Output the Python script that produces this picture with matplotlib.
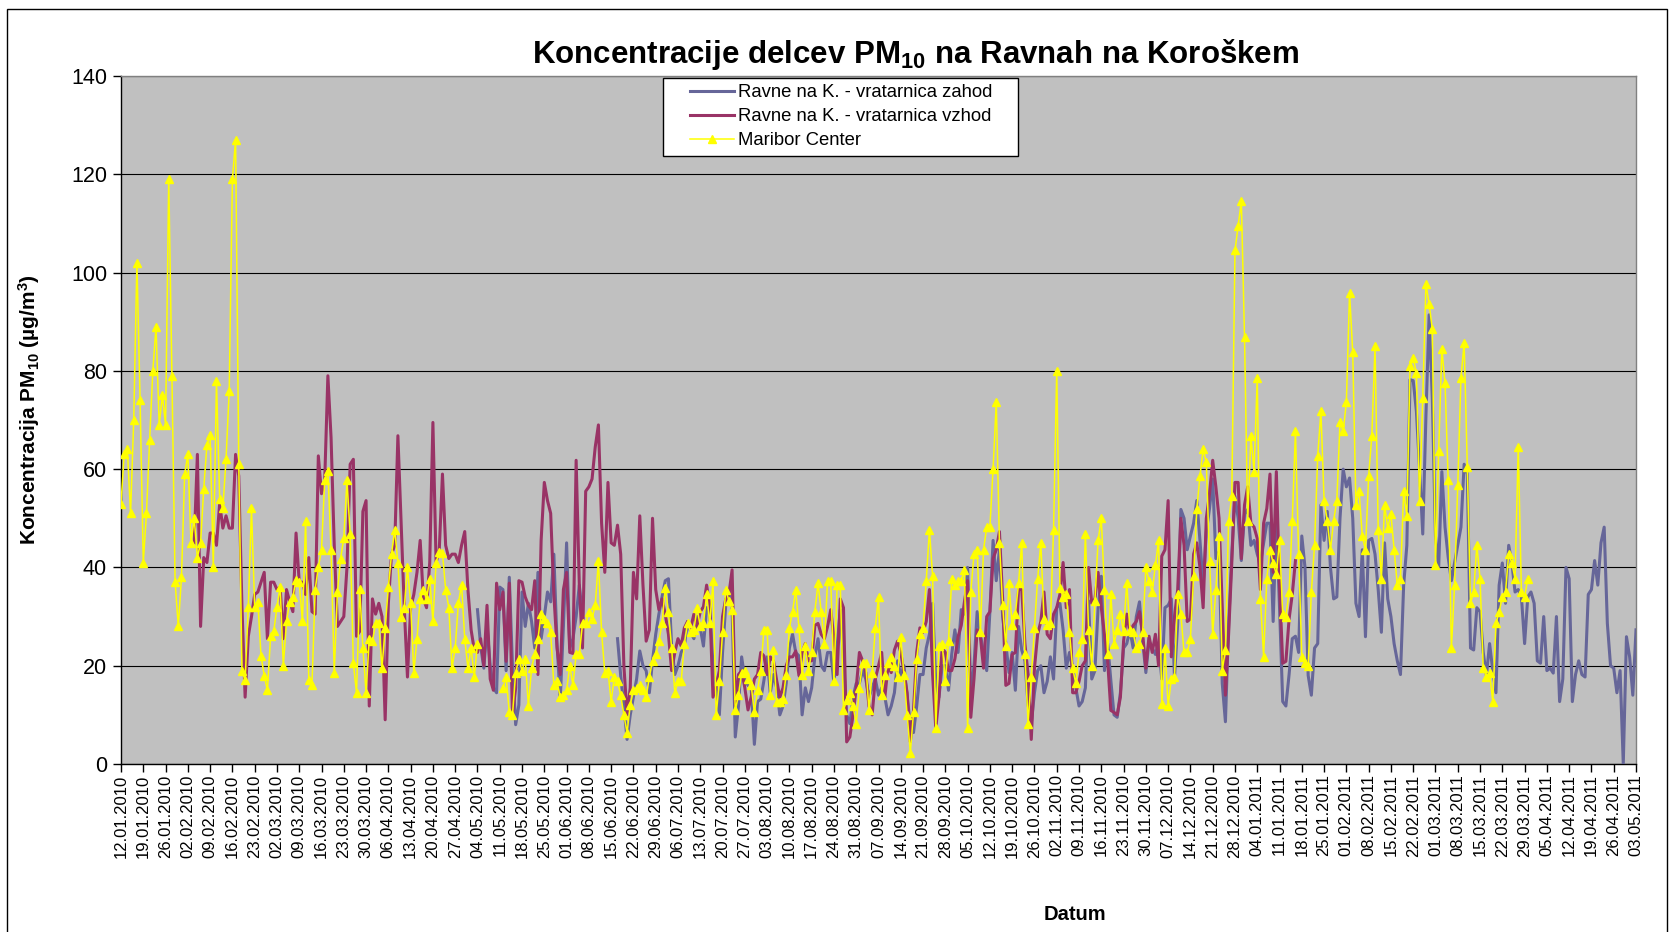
import matplotlib
matplotlib.use("Agg")
import matplotlib.pyplot as plt
from matplotlib.patches import Rectangle
import numpy as np
import pandas as pd

plt.rcParams["font.family"] = ["Liberation Sans", "DejaVu Sans"]
plt.rcParams["mathtext.fontset"] = "custom"
plt.rcParams["mathtext.rm"] = "Liberation Sans"
plt.rcParams["mathtext.bf"] = "Liberation Sans:bold"
plt.rcParams["mathtext.it"] = "Liberation Sans:italic"

# daily values, first day 12.01.2010, None = no measurement
start_date = "2010-01-12"
n_days = 477

series_names = ["Ravne na K. - vratarnica zahod",
                "Ravne na K. - vratarnica vzhod",
                "Maribor Center"]

ravne_zahod = ([None] * 112 +
    [31.4, 24, 19.5, 28, 20, 15.5, 14.5, 36, 35.5, 19, 38, 20, 8, 12, 35, 28, 32.7, 29, 23.6, 39,
     25.5, 30, 35, 33, 42.7, 24.5, 13, 28, 45, 23.6, 25.5, 30, 36.4, 30] +
    [None] * 10 +
    [25.5, 18, 11.8, 5, 10, 13.6, 17.3, 23, 20, 19, 14.5, 21, 26.4, 30.5, 34, 37.3, 37.7, 24, 18.2, 20,
     22.7, 24, 29, 26.8, 25.5, 30, 27.7, 24, 31.8, 31.8, 20, 15.5, 10, 22.7, 32.3, 35.5, 31.8, 5.5, 11.8, 21.8,
     17.3, 16, 15.5, 4, 12.7, 13.2, 17, 21.8, 14.5, 18.2, 15.5, 10, 11.8, 16.4, 23.6, 26.4, 22.7] +
    [22, 10, 15.5, 12.7, 15.5, 21.8, 25.5, 20, 19, 22.7, 22.7, 16.4, 24, 31.4, 21, 10, 8.2, 13.6, 16.4, 16.4,
     19, 17.3, 13.6, 15.5, 17.3, 14, 15.5, 13.6, 10, 11.8, 14.5, 21, 18, 20, 13.6, 8.2, 6.4, 11.8, 18.2, 18.2,
     23.6, 26.4, 32.7, 16.4, 13.6, 20, 20, 15, 22.3, 27.3, 22.7, 31.4, 30.5, 40] +
    [13.6, 20, 31, 26.4, 22.7, 19, 31, 45.5, 37.3, 43.6, 30, 24.5, 18.6, 22.7, 15, 28, 23.2, 21, 12, 8.2,
     14.5, 19, 20, 14.5, 16.8, 21.8, 17.3, 31.8, 32.7, 27.3, 19.5, 22.7, 19.5, 15.5, 11.8, 12.7, 15.5, 33.2, 17.3, 19,
     31.8, 38.2, 19, 24.5, 17, 10, 9.5, 14.5, 23.6, 24.5, 27.3, 23.6, 30, 33] +
    [25, 18.6, 25, 23.6, 22.3, 24.5, 17.3, 31.8, 32.3, 33.6, 17.7, 28.6, 51.8, 50, 43.6, 46.4, 49, 53.6, 45.5, 36.4,
     47.3, 52, 58, 41.8, 43.2, 16.4, 8.6, 28.2, 42.7, 54.5, 50, 41.4, 50.9, 51.8, 44.5, 45.5, 42.7, 40.9, 45, 49,
     49, 29, 50, 31.8, 12.7, 11.8, 18.2, 25.5, 26, 22.7, 46.4, 40, 18, 14] +
    [23.6, 24.5, 52.7, 45.5, 51.4, 40, 33.6, 34, 50, 60, 56.4, 58.2, 50, 32.7, 30, 43.6, 25.9, 45.5, 45.9, 42.7,
     35.5, 26.8, 45, 33.6, 30, 24.5, 21, 18.2, 36.4, 44.5, 78.2, 78, 71.8, 60, 46.8, 70.9, 91.4, 74.5, 46.4, 40,
     59.5, 48.2, 42, 37.3, 40.9, 44.5, 48.2, 61, 59, 23.6, 23.2] +
    [31.8, 31, 22.7, 18, 24.5, 19, 14.5, 36.4, 40.9, 32.7, 44.5, 40.9, 35, 35.5, 34, 24.5, 34, 35, 32.7, 21,
     20.5, 30, 19, 19.5, 18.5, 30, 12.7, 17.3, 40, 37.7, 12.7, 18.2, 21, 18.2, 17.7, 34.5, 35.5, 41.4, 36.4, 45,
     48.2, 28.6, 20, 19.5, 14.5, 19, 0, 25.9, 21.8, 14, 27.3])

ravne_vzhod = ([None] * 23 +
    [45, 63, 28, 42, 41, 47, 47, 44.5, 53, 48, 50.5, 48, 48, 63, 58.6, 32, 13.6, 26, 30, 34.5,
     35, 37, 39, 25.5, 37, 37, 35.5, 36, 25.5] +
    [35.5, 33, 31, 47, 37, 37, 34.5, 42, 31, 30.5, 62.7, 55, 57.7, 79, 66.4, 44.5, 28, 29, 30, 40,
     61, 62, 26, 27, 51.4, 53.6, 11.8, 33.6, 30.5, 32.7, 30, 9, 32.7, 42.7, 44.5, 66.8, 49.5, 31.8, 17.7, 31.8,
     34.5, 39, 45.5, 33.6, 31.8, 41, 69.5, 41, 43.6, 59, 44.5, 41.8, 42.7] +
    [42.7, 41, 44.5, 47.3, 35.5, 27.3, 23.2, 22.7, 25.5, 20, 32.3, 17.3, 15, 36.8, 31.4, 35, 20.9, 36.8, 10, 15.5,
     37.3, 37, 34, 32.3, 31.4, 37.3, 18.2, 45.5, 57.3, 53.6, 51, 34.5, 23.6, 18.2, 35.5, 39, 22.7, 22.5, 61.8, 36.4,
     23.6, 55.5, 56.4, 58, 64.5, 69, 49, 39, 57.3, 45, 44.5, 48.6, 42.7, 20, 10] +
    [15.5, 39, 33.6, 50.5, 36.4, 25, 27.3, 50, 35.5, 31.4, 33.6, 30.5, 26.4, 19, 22.7, 25.5, 24, 27.7, 29, 27.7,
     30.5, 28, 31, 32, 36.4, 32, 13.6, 16, 19, 30, 33.6, 34.5, 39.5, 11.8, 18.2, 19, 15.5, 11, 13.6, 17.3,
     18.2, 22.7, 22, 18.2, 21.8, 21, 17, 13.6, 15.5, 20, 21.8, 21.8, 23, 18] +
    [22.7, 24.5, 21, 21, 28.2, 28.6, 26.4, 25.5, 28, 31.4, 25.5, 18.2, 33.6, 31.8, 4.5, 5.5, 10, 15.5, 22.7, 21,
     18.6, 11.8, 10, 17.3, 20, 22.7, 13.6, 20, 18.6, 23.2, 25, 22.7, 18.6, 14.5, 4.5, 10.9, 22.7, 27.7, 26.8, 29,
     35.5, 18.2, 7.3, 13.6, 23.6, 22.7, 19, 19, 21.4, 25.9, 28.2, 33, 37.3] +
    [9.5, 17.3, 27.3, 26, 19.5, 30, 31, 41.8, 43.6, 47.3, 33.6, 16, 16.4, 22.3, 22.7, 35.5, 35.5, 24.5, 18.2, 5,
     19.5, 26.4, 29, 35, 26.4, 25.5, 30.5, 31.8, 34.5, 41, 31.8, 35.5, 14.5, 14.5, 16.8, 20, 21, 40, 32.7, 33.6,
     39, 31.8, 26.4, 21, 10.9, 10.5, 10, 13.6, 25, 30.5, 26.8, 28.2, 29, 31] +
    [26.4, 19.5, 26, 22.7, 26.4, 20, 42.3, 43.6, 53.6, 21.8, 30, 35.5, 50, 44.5, 29, 29.5, 42.7, 45, 40, 31.8,
     50, 55, 61.8, 56.4, 50, 31.8, 14, 26.4, 40.9, 57.3, 57.3, 41.8, 52.7, 56.4, 49, 48.2, 45.9, 35.5, 49, 52,
     59, 39, 59.5, 36.4, 20.5, 20.9, 29.5, 34.5, 41.4] +
    [None] * 107)

maribor_center = (
    [53, 63, 64, 51, 70, 102, 74, 41, 51, 66, 80, 89, 69, 75, 69, 119, 79, 37, 28, 38,
     59, 63, 45, 50, 42, 45, 56, 65, 67, 40, 78, 54, 52, 62, 76, 119, 127, 61, 19, 17,
     32, 52, 32, 33, 22, 18, 15, 26, 27, 32, 36, 20, 29] +
    [33, 34, 37.5, 37, 29, 49.5, 17, 16, 35.5, 40, 43.6, 57.7, 59.7, 43.6, 18.6, 35, 41.8, 46, 57.7, 46.8,
     20.5, 14.5, 35.6, 23.6, 14.5, 25.5, 25, 28.6, 28.6, 19.5, 27.7, 36, 42.7, 47.7, 41, 30, 31.8, 40, 32.7, 18.6,
     25.5, 33.6, 35.5, 33.6, 37.7, 29, 41, 43.2, 43, 35.5, 31.8, 19.5, 23.6, 32.7] +
    [36.5, 25.5, 19.5, 23.6, 17.7, 24.5] +
    [None] * 7 +
    [15.5, 17.7, 10.5, 10, 18.6, 21.4, 19, 21.4, 11.8, 19.5, 22.3, 25.5, 30.5, 29.5, 28.6, 26.8, 16, 16.8, 13.6, 14,
     15, 20, 16, 22.3, 22.3, 28.6, 28.6, 31, 29.5, 32.3, 41.4, 26.8, 18.6, 19, 12.7, 17.7, 16.8, 14, 10, 6.4] +
    [12, 15, 15.5, 16, 15, 13.6, 17.7, 21, 22.3, 25, 28.6, 35.9, 31, 23.6, 14.5, 16.8, 16.8, 24.5, 28.6, 26.8,
     27.3, 31.8, 28, 28.6, 34.5, 28.6, 37.3, 10, 16.8, 26.8, 35.5, 33.2, 31.4, 10.9, 14, 18.6, 19, 17.3, 16, 10.5,
     15, 19, 27.3, 27.3, 14, 23.2, 12.7, 12.7, 13.2, 18.2, 27.7, 31, 35.5, 27.7] +
    [18.2, 24, 19, 22.7, 31, 36.8, 31, 24.5, 37.3, 37.3, 16.8, 36.4, 36.4, 10.9, 13, 14.5, 11.8, 8.2, 15.5, 20.5,
     20.5, 10.9, 18.6, 27.7, 34, 14, 18.2, 20.5, 21.8, 20, 17.7, 25.9, 18.2, 10, 2.3, 10.5, 21.4, 26.4, 27.7, 37.3,
     47.7, 38.2, 7.3, 24, 24.5, 16.8, 25, 37.7, 36.4, 37.3, 37.3, 39.5, 7.3] +
    [35, 42.7, 43.6, 26.8, 43.6, 48.2, 48.2, 60, 73.6, 45, 32.3, 24, 36.8, 28.2, 30.5, 36.8, 45, 22.3, 8.2, 17.7,
     27.7, 37.7, 45, 29.5, 28.2, 28.6, 47.7, 80, 35.9, 34, 34.5, 26.8, 19.5, 16.4, 22.7, 25.5, 46.8, 27.3, 20, 33.2,
     45.5, 50, 35.5, 22.3, 34.5, 24.5, 27.3, 30.5, 27, 36.8, 27.3, 26.8] +
    [23.6, 24.5, 26.8, 40, 37.3, 35, 40.5, 45.5, 12.3, 23.6, 11.8, 17.3, 17.7, 34.5, 30.5, 22.7, 22.7, 25.5, 38.2, 51.8,
     58.6, 64, 61.4, 41.4, 26.4, 35.5, 46.4, 19, 23.2, 49.5, 54.5, 104.5, 109.5, 114.5, 86.8, 49.5, 66.8, 59.5, 78.6, 33.6,
     21.8, 37.7, 43.6, 40.9, 38.6, 45.5, 30.5, 30, 35, 49.5, 67.7] +
    [42.7, 21.8, 20.5, 20, 35, 44.5, 62.7, 71.8, 53.6, 49.5, 43.6, 49.5, 53.6, 69.5, 67.7, 73.6, 95.9] +
    [83.8, 52.7, 55.5, 46.4, 43.6, 58.6, 66.8, 85, 47.7, 37.7, 52.7, 48, 50.9, 43.6, 36.4, 37.7, 55.5, 50.5, 80.9, 82.7,
     79.5, 53.6, 74.5, 97.7, 93.6, 88.6, 40.5, 63.6, 84.5, 77.5, 57.7, 23.6, 36.4, 56.8, 78.6, 85.6, 60.5, 32.7, 35, 44.5,
     37.7] +
    [19.5, 17.7, 18.5, 12.7, 28.6, 31, 34, 35, 42.7, 40.9, 37.7, 64.5, 35, 34, 37.7] +
    [None] * 34)

dates = pd.date_range(start_date, periods=n_days, freq="D")
x = np.arange(n_days)
zahod = np.array(ravne_zahod, dtype=float)
vzhod = np.array(ravne_vzhod, dtype=float)
maribor = np.array(maribor_center, dtype=float)

W, H = 1670, 932
fig = plt.figure(figsize=(W / 100, H / 100), dpi=100)
ax = fig.add_axes([121 / W, 1 - 764 / H, 1515 / W, 688 / H])
ax.set_facecolor("#C0C0C0")

l1, = ax.plot(x, zahod, color="#666699", lw=2.2, label=series_names[0], zorder=3)
l2, = ax.plot(x, vzhod, color="#993366", lw=2.2, label=series_names[1], zorder=4)
l3, = ax.plot(x, maribor, color="#FFFF00", lw=1.1, marker="^", ms=6,
              mec="#FFFF00", mfc="#FFFF00", label=series_names[2], zorder=5)

ax.set_xlim(0, n_days - 1)
ax.set_ylim(0, 140)
ax.set_yticks(np.arange(0, 141, 20))
ax.yaxis.grid(True, color="black", lw=0.8)
ax.set_axisbelow(True)

tick_pos = x[::7]
ax.set_xticks(tick_pos)
ax.set_xticklabels(dates[::7].strftime("%d.%m.%Y"), rotation=90)
ax.tick_params(axis="x", direction="out", length=6, width=1, labelsize=12, pad=1.5)
ax.tick_params(axis="y", direction="out", length=6, width=1, labelsize=15.5, pad=4)

for s in ["left", "bottom"]:
    ax.spines[s].set_color("black")
    ax.spines[s].set_linewidth(1)
for s in ["top", "right"]:
    ax.spines[s].set_color("#808080")
    ax.spines[s].set_linewidth(1)

# legend box
box = Rectangle(((663 - 121) / 1515, (764 - 156) / 688), 355 / 1515, 78 / 688,
                transform=ax.transAxes, facecolor="white", edgecolor="black", lw=1, zorder=6)
ax.add_patch(box)
leg = ax.legend(handles=[l1, l2, l3], loc="upper left",
                bbox_to_anchor=((690 - 121) / 1515, (764 - 84) / 688),
                frameon=False, fontsize=13.3, borderpad=0, borderaxespad=0,
                handlelength=2.4, handletextpad=0.2, labelspacing=0.38)
leg.set_zorder(7)

fig.text(916 / W, 1 - 54 / H, r"Koncentracije delcev PM$_{\mathbf{10}}$ na Ravnah na Koroškem",
         ha="center", va="center", fontsize=22.5, fontweight="bold")
fig.text(29 / W, 1 - 410 / H, r"Koncentracija PM$_{\mathbf{10}}$ (µg/m$^{\mathbf{3}}$)",
         rotation=90, ha="center", va="center", fontsize=15, fontweight="bold")
fig.text(1075 / W, 1 - 914 / H, "Datum", ha="center", va="center", fontsize=14.5, fontweight="bold")

frame = Rectangle((7 / W, -0.1), 1660 / W, 1.1 - 9 / H, transform=fig.transFigure,
                  fill=False, edgecolor="black", lw=1)
fig.add_artist(frame)

fig.savefig("out.png", dpi=100)
